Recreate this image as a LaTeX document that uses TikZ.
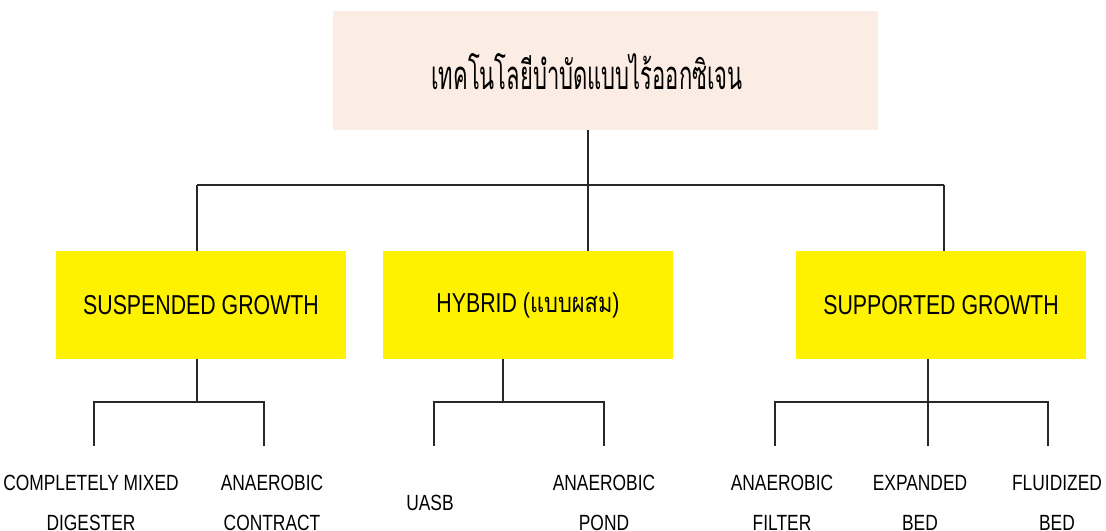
\documentclass[tikz,border=0pt]{standalone}
\usepackage{fontspec}
\setmainfont[FakeStretch=0.78]{Liberation Sans}
\newfontfamily\leaffont[FakeStretch=0.79]{Liberation Sans}
\newfontfamily\thaifont[Script=Thai,FakeStretch=0.8]{Loma}
\newfontfamily\thaititle[Script=Thai,FakeStretch=0.55]{Loma}
\definecolor{peach}{RGB}{251,237,227}
\definecolor{lineclr}{RGB}{40,40,40}
\tikzset{
  titlebox/.style={fill=peach, draw=none, minimum width=408.75pt, minimum height=89.25pt, inner sep=0pt},
  groupbox/.style={fill=yellow, draw=none, minimum width=217.5pt, minimum height=81pt, inner sep=0pt, font=\fontsize{20.5}{24}\selectfont},
  leaf/.style={align=center, inner sep=0pt, font=\leaffont\fontsize{16.5}{30}\selectfont},
  conn/.style={draw=lineclr, line width=0.8pt}
}
\begin{document}
\begin{tikzpicture}[x=0.75pt,y=-0.75pt]
\useasboundingbox (0,0) rectangle (1106,531);
% boxes
\node[titlebox] (top) at (605.5,70.5) {};
\node[font=\thaititle\fontsize{30}{36}\selectfont, inner sep=0pt] (toptext) at (587,72) {เทคโนโลยีบำบัดแบบไร้ออกซิเจน};
\node[groupbox] (s1) at (201,305) {SUSPENDED GROWTH};
\node[groupbox] (s2) at (528,305) {HYBRID ({\thaifont แบบผสม})};
\node[groupbox] (s3) at (941,305) {SUPPORTED GROWTH};
% leaves
\node[leaf] (l1) at (91,503) {COMPLETELY MIXED\\DIGESTER};
\node[leaf] (l2) at (272,503) {ANAEROBIC\\CONTRACT};
\node[leaf] (l3) at (430,502.5) {UASB};
\node[leaf] (l4) at (604,503) {ANAEROBIC\\POND};
\node[leaf] (l5) at (782,503) {ANAEROBIC\\FILTER};
\node[leaf] (l6) at (920,503) {EXPANDED\\BED};
\node[leaf] (l7) at (1057,503) {FLUIDIZED\\BED};
% level 1 connectors
\coordinate (j0) at (588,185);
\coordinate (jl) at (197,185);
\coordinate (jr) at (944,185);
\draw[conn] (top.south -| j0) -- (j0);
\draw[conn] (jl) -- (jr);
\draw[conn] (jl) -- (s1.north -| jl);
\draw[conn] (j0) -- (s2.north -| j0);
\draw[conn] (jr) -- (s3.north -| jr);
% level 2 connectors: suspended
\coordinate (k1) at (197,402);
\coordinate (k1a) at (94,402);
\coordinate (k1b) at (264,402);
\coordinate (e1a) at (94,446);
\coordinate (e1b) at (264,446);
\draw[conn] (s1.south -| k1) -- (k1);
\draw[conn] (e1a) -- (k1a) -- (k1b) -- (e1b);
% hybrid
\coordinate (k2) at (503,402);
\coordinate (k2a) at (434,402);
\coordinate (k2b) at (604,402);
\coordinate (e2a) at (434,446);
\coordinate (e2b) at (604,446);
\draw[conn] (s2.south -| k2) -- (k2);
\draw[conn] (e2a) -- (k2a) -- (k2b) -- (e2b);
% supported
\coordinate (k3) at (928,402);
\coordinate (k3a) at (775,402);
\coordinate (k3b) at (1048,402);
\coordinate (e3a) at (775,446);
\coordinate (e3b) at (1048,446);
\coordinate (e3m) at (928,446);
\draw[conn] (s3.south -| k3) -- (e3m);
\draw[conn] (e3a) -- (k3a) -- (k3b) -- (e3b);
\end{tikzpicture}
\end{document}
